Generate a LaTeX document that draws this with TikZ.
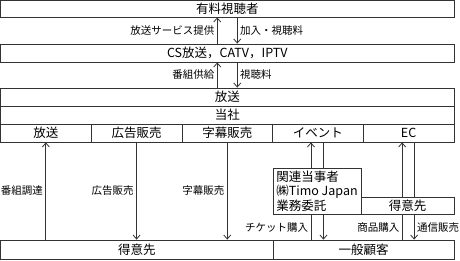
\documentclass[tikz,border=0pt]{standalone}
\usepackage{fontspec}
\setmainfont{Noto Sans CJK JP}
\usetikzlibrary{arrows.meta}

\begin{document}
\begin{tikzpicture}[x=1pt,y=-1pt,>={Straight Barb[length=4pt,width=7pt]},box/.style={draw=black!80,line width=0.8pt,inner sep=0,fill=white,font=\fontsize{12.5}{14.5}\selectfont},lbl/.style={font=\fontsize{10.5}{12}\selectfont,inner sep=2.5pt},ln/.style={draw=black!80,line width=0.8pt}]
\useasboundingbox (0,0) rectangle (460,260);
\node[box,minimum width=453.5,minimum height=16.5] (tv) at (227.25,8.75){有料視聴者};\node[box,minimum width=453.5,minimum height=18] (cs) at (227.25,53){CS放送，CATV，IPTV};
\node[box,minimum width=453.5,minimum height=18] (hoso) at (227.25,97){放送};\node[box,minimum width=453.5,minimum height=18] (tosha) at (227.25,115){当社};
\foreach \t [count=\i] in {放送,広告販売,字幕販売,イベント,EC} \node[box,minimum width=90.7,minimum height=18] (c\i) at ({0.5+90.7*(\i-0.5)},133){\t};
\node[box,minimum width=272.5,minimum height=19] (tokui1) at (136.75,249.5){得意先};\node[box,minimum width=181,minimum height=19] (ippan) at (363.5,249.5){一般顧客};
\draw[ln,->] ([xshift=-10]cs.north)--([xshift=-10]cs.north |- tv.south) node[lbl,midway,left] (l1){放送サービス提供};\draw[ln,->] ([xshift=10]tv.south)--([xshift=10]tv.south |- cs.north) node[lbl,midway,right] (l2){加入・視聴料};
\draw[ln,->] ([xshift=-10]hoso.north)--([xshift=-10]hoso.north |- cs.south) node[lbl,midway,left] (l3){番組供給};\draw[ln,->] ([xshift=10]cs.south)--([xshift=10]cs.south |- hoso.north) node[lbl,midway,right] (l4){視聴料};
\draw[ln,->] (c1.south |- tokui1.north)--(c1.south) node[lbl,midway,left] (l5){番組調達};\draw[ln,->] (c2.south)--(c2.south |- tokui1.north) node[lbl,midway,left] (l6){広告販売};\draw[ln,->] (c3.south)--(c3.south |- tokui1.north) node[lbl,midway,left] (l7){字幕販売};
\draw[ln,->] ([xshift=-7]c4.south |- ippan.north)--([xshift=-7]c4.south) node[lbl,pos=0.12,left] (l8){チケット購入};\draw[ln,->] ([xshift=5.5]c4.south)--([xshift=5.5]c4.south |- ippan.north);
\draw[ln,->] ([xshift=-6.5]c5.south |- ippan.north)--([xshift=-6.5]c5.south) node[lbl,pos=0.12,left] (l9){商品購入};\draw[ln,->] ([xshift=5.5]c5.south)--([xshift=5.5]c5.south |- ippan.north) node[lbl,pos=0.88,right] (l10){通信販売};
\node[box,minimum width=88,minimum height=46.5,align=left] (kanren) at (317,191.25){関連当事者\\㈱Timo Japan\\業務委託};\node[box,minimum width=93,minimum height=17.5] (tokui2) at (407.5,205.75){得意先};
\end{tikzpicture}
\end{document}
